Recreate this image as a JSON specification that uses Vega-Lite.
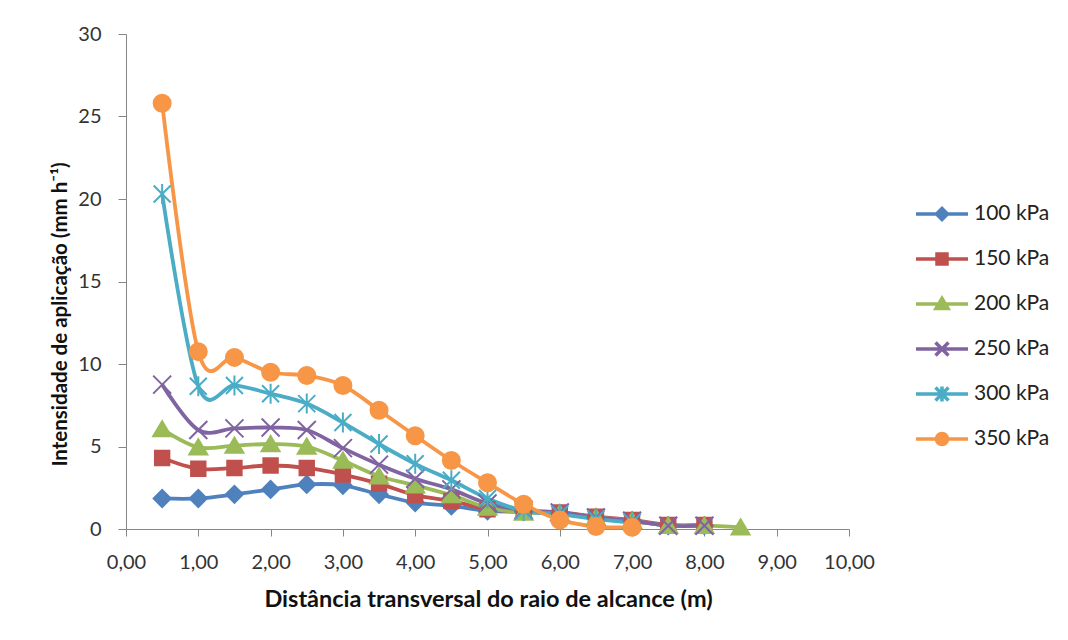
{
  "$schema": "https://vega.github.io/schema/vega-lite/v6.json",
  "autosize": {"type": "none"},
  "width": 723,
  "height": 495,
  "padding": {"left": 126, "top": 34, "right": 219, "bottom": 111},
  "background": "white",
  "config": {
    "font": "Lato",
    "view": {"stroke": null},
    "axis": {"grid": false, "domainColor": "#868686", "tickColor": "#868686", "domainWidth": 1, "tickWidth": 1, "labelColor": "#333333", "titleColor": "#111111", "labelFont": "Lato", "titleFont": "Lato", "labelFlush": false}
  },
  "data": {
    "values": [
      {"d": 0.5, "v": 1.85, "s": "100 kPa"}, {"d": 1.0, "v": 1.85, "s": "100 kPa"}, {"d": 1.5, "v": 2.1, "s": "100 kPa"}, {"d": 2.0, "v": 2.4, "s": "100 kPa"}, {"d": 2.5, "v": 2.7, "s": "100 kPa"}, {"d": 3.0, "v": 2.65, "s": "100 kPa"}, {"d": 3.5, "v": 2.1, "s": "100 kPa"}, {"d": 4.0, "v": 1.6, "s": "100 kPa"}, {"d": 4.5, "v": 1.4, "s": "100 kPa"}, {"d": 5.0, "v": 1.1, "s": "100 kPa"}, {"d": 5.5, "v": 1.05, "s": "100 kPa"}, {"d": 6.0, "v": 0.95, "s": "100 kPa"}, {"d": 6.5, "v": 0.7, "s": "100 kPa"}, {"d": 7.0, "v": 0.5, "s": "100 kPa"}, {"d": 7.5, "v": 0.2, "s": "100 kPa"}, {"d": 8.0, "v": 0.2, "s": "100 kPa"},
      {"d": 0.5, "v": 4.3, "s": "150 kPa"}, {"d": 1.0, "v": 3.65, "s": "150 kPa"}, {"d": 1.5, "v": 3.7, "s": "150 kPa"}, {"d": 2.0, "v": 3.85, "s": "150 kPa"}, {"d": 2.5, "v": 3.7, "s": "150 kPa"}, {"d": 3.0, "v": 3.3, "s": "150 kPa"}, {"d": 3.5, "v": 2.75, "s": "150 kPa"}, {"d": 4.0, "v": 2.05, "s": "150 kPa"}, {"d": 4.5, "v": 1.7, "s": "150 kPa"}, {"d": 5.0, "v": 1.2, "s": "150 kPa"}, {"d": 5.5, "v": 1.05, "s": "150 kPa"}, {"d": 6.0, "v": 1.0, "s": "150 kPa"}, {"d": 6.5, "v": 0.75, "s": "150 kPa"}, {"d": 7.0, "v": 0.55, "s": "150 kPa"}, {"d": 7.5, "v": 0.25, "s": "150 kPa"}, {"d": 8.0, "v": 0.25, "s": "150 kPa"},
      {"d": 0.5, "v": 6.05, "s": "200 kPa"}, {"d": 1.0, "v": 4.95, "s": "200 kPa"}, {"d": 1.5, "v": 5.05, "s": "200 kPa"}, {"d": 2.0, "v": 5.15, "s": "200 kPa"}, {"d": 2.5, "v": 5.0, "s": "200 kPa"}, {"d": 3.0, "v": 4.15, "s": "200 kPa"}, {"d": 3.5, "v": 3.2, "s": "200 kPa"}, {"d": 4.0, "v": 2.65, "s": "200 kPa"}, {"d": 4.5, "v": 2.05, "s": "200 kPa"}, {"d": 5.0, "v": 1.3, "s": "200 kPa"}, {"d": 5.5, "v": 1.0, "s": "200 kPa"}, {"d": 6.0, "v": 0.95, "s": "200 kPa"}, {"d": 6.5, "v": 0.7, "s": "200 kPa"}, {"d": 7.0, "v": 0.5, "s": "200 kPa"}, {"d": 7.5, "v": 0.2, "s": "200 kPa"}, {"d": 8.0, "v": 0.2, "s": "200 kPa"}, {"d": 8.5, "v": 0.1, "s": "200 kPa"},
      {"d": 0.5, "v": 8.75, "s": "250 kPa"}, {"d": 1.0, "v": 6.0, "s": "250 kPa"}, {"d": 1.5, "v": 6.1, "s": "250 kPa"}, {"d": 2.0, "v": 6.15, "s": "250 kPa"}, {"d": 2.5, "v": 6.0, "s": "250 kPa"}, {"d": 3.0, "v": 4.9, "s": "250 kPa"}, {"d": 3.5, "v": 3.9, "s": "250 kPa"}, {"d": 4.0, "v": 3.05, "s": "250 kPa"}, {"d": 4.5, "v": 2.4, "s": "250 kPa"}, {"d": 5.0, "v": 1.55, "s": "250 kPa"}, {"d": 5.5, "v": 1.15, "s": "250 kPa"}, {"d": 6.0, "v": 1.0, "s": "250 kPa"}, {"d": 6.5, "v": 0.7, "s": "250 kPa"}, {"d": 7.0, "v": 0.5, "s": "250 kPa"}, {"d": 7.5, "v": 0.2, "s": "250 kPa"}, {"d": 8.0, "v": 0.2, "s": "250 kPa"},
      {"d": 0.5, "v": 20.3, "s": "300 kPa"}, {"d": 1.0, "v": 8.65, "s": "300 kPa"}, {"d": 1.5, "v": 8.7, "s": "300 kPa"}, {"d": 2.0, "v": 8.2, "s": "300 kPa"}, {"d": 2.5, "v": 7.6, "s": "300 kPa"}, {"d": 3.0, "v": 6.45, "s": "300 kPa"}, {"d": 3.5, "v": 5.15, "s": "300 kPa"}, {"d": 4.0, "v": 3.95, "s": "300 kPa"}, {"d": 4.5, "v": 2.95, "s": "300 kPa"}, {"d": 5.0, "v": 1.85, "s": "300 kPa"}, {"d": 5.5, "v": 1.1, "s": "300 kPa"}, {"d": 6.0, "v": 0.9, "s": "300 kPa"}, {"d": 6.5, "v": 0.6, "s": "300 kPa"}, {"d": 7.0, "v": 0.4, "s": "300 kPa"},
      {"d": 0.5, "v": 25.8, "s": "350 kPa"}, {"d": 1.0, "v": 10.75, "s": "350 kPa"}, {"d": 1.5, "v": 10.4, "s": "350 kPa"}, {"d": 2.0, "v": 9.5, "s": "350 kPa"}, {"d": 2.5, "v": 9.3, "s": "350 kPa"}, {"d": 3.0, "v": 8.7, "s": "350 kPa"}, {"d": 3.5, "v": 7.2, "s": "350 kPa"}, {"d": 4.0, "v": 5.65, "s": "350 kPa"}, {"d": 4.5, "v": 4.15, "s": "350 kPa"}, {"d": 5.0, "v": 2.8, "s": "350 kPa"}, {"d": 5.5, "v": 1.5, "s": "350 kPa"}, {"d": 6.0, "v": 0.55, "s": "350 kPa"}, {"d": 6.5, "v": 0.15, "s": "350 kPa"}, {"d": 7.0, "v": 0.1, "s": "350 kPa"}
    ]
  },
  "encoding": {
    "x": {
      "field": "d", "type": "quantitative",
      "scale": {"domain": [0, 10], "nice": false, "zero": false},
      "axis": {
        "values": [0, 1, 2, 3, 4, 5, 6, 7, 8, 9, 10],
        "labelExpr": "replace(format(datum.value, '.2f'), '.', ',')",
        "labelFontSize": 20, "labelPadding": 16, "labelBaseline": "top", "tickSize": 7,
        "title": "Distância transversal do raio de alcance (m)",
        "titleFontSize": 23.5, "titleFontWeight": "bold",
        "titleX": 362, "titleY": 77, "titleBaseline": "alphabetic", "titleAlign": "center"
      }
    },
    "y": {
      "field": "v", "type": "quantitative",
      "scale": {"domain": [0, 30], "nice": false},
      "axis": {
        "values": [0, 5, 10, 15, 20, 25, 30],
        "labelFontSize": 20, "labelPadding": 17, "tickSize": 8,
        "title": "Intensidade de aplicação (mm h⁻¹)",
        "titleFontSize": 20.5, "titleFontWeight": "bold",
        "titleX": -66, "titleY": 280, "titleAngle": 270, "titleAlign": "center", "titleBaseline": "middle"
      }
    }
  },
  "layer": [
    {
      "mark": {"type": "line", "interpolate": "cardinal", "strokeWidth": 3.8},
      "encoding": {
        "color": {
          "field": "s", "type": "nominal", "legend": null,
          "scale": {
            "domain": ["100 kPa", "150 kPa", "200 kPa", "250 kPa", "300 kPa", "350 kPa"],
            "range": ["#4F81BD", "#C0504D", "#9BBB59", "#8064A2", "#4BACC6", "#F79646"]
          }
        }
      }
    },
    {
      "mark": {"type": "point", "filled": true, "size": 400, "opacity": 1, "strokeWidth": 2},
      "encoding": {
        "color": {
          "field": "s", "type": "nominal", "legend": null,
          "scale": {
            "domain": ["100 kPa", "150 kPa", "200 kPa", "250 kPa", "300 kPa", "350 kPa"],
            "range": ["#4F81BD", "#C0504D", "#9BBB59", "#8064A2", "#4BACC6", "#F79646"]
          }
        },
        "stroke": {
          "field": "s", "type": "nominal", "legend": null,
          "scale": {
            "domain": ["100 kPa", "150 kPa", "200 kPa", "250 kPa", "300 kPa", "350 kPa"],
            "range": ["#4F81BD", "#C0504D", "#9BBB59", "#8064A2", "#4BACC6", "#F79646"]
          }
        },
        "shape": {
          "field": "s", "type": "nominal", "legend": null,
          "scale": {
            "domain": ["100 kPa", "150 kPa", "200 kPa", "250 kPa", "300 kPa", "350 kPa"],
            "range": [
              "M0,-0.85L0.85,0L0,0.85L-0.85,0Z",
              "M-0.72,-0.72H0.72V0.72H-0.72Z",
              "M0,-0.8L0.9,0.72H-0.9Z",
              "M-0.9,-0.9L0.9,0.9M-0.9,0.9L0.9,-0.9",
              "M-0.85,-0.85L0.85,0.85M-0.85,0.85L0.85,-0.85M0,-1V1",
              "M-0.85,0A0.85,0.85,0,1,0,0.85,0A0.85,0.85,0,1,0,-0.85,0Z"
            ]
          }
        }
      }
    },
    {
      "transform": [{"filter": "false"}],
      "mark": {"type": "point", "filled": true, "size": 400, "opacity": 1, "strokeWidth": 3.5},
      "encoding": {
        "color": {
          "field": "s", "type": "nominal",
          "scale": {
            "domain": ["100 kPa", "150 kPa", "200 kPa", "250 kPa", "300 kPa", "350 kPa"],
            "range": ["#4F81BD", "#C0504D", "#9BBB59", "#8064A2", "#4BACC6", "#F79646"]
          },
          "legend": {
            "title": null, "orient": "none", "legendX": 804, "legendY": 168, "padding": 0,
            "rowPadding": 15, "labelOffset": 20, "labelFontSize": 21, "labelFont": "Lato", "labelColor": "#222222",
            "symbolSize": 400, "symbolStrokeWidth": 3.5, "symbolOpacity": 1
          }
        },
        "stroke": {
          "field": "s", "type": "nominal",
          "scale": {
            "domain": ["100 kPa", "150 kPa", "200 kPa", "250 kPa", "300 kPa", "350 kPa"],
            "range": ["#4F81BD", "#C0504D", "#9BBB59", "#8064A2", "#4BACC6", "#F79646"]
          },
          "legend": {
            "title": null, "orient": "none", "legendX": 804, "legendY": 168, "padding": 0,
            "rowPadding": 15, "labelOffset": 20, "labelFontSize": 21, "labelFont": "Lato", "labelColor": "#222222",
            "symbolSize": 400, "symbolStrokeWidth": 3.5, "symbolOpacity": 1
          }
        },
        "shape": {
          "field": "s", "type": "nominal",
          "scale": {
            "domain": ["100 kPa", "150 kPa", "200 kPa", "250 kPa", "300 kPa", "350 kPa"],
            "range": [
              "M0,-0.75L0,-0.75M0,0.75L0,0.75M-2.6,0H2.6M0,-0.55L0.55,0L0,0.55L-0.55,0Z",
              "M0,-0.75L0,-0.75M0,0.75L0,0.75M-2.6,0H2.6M-0.5,-0.5H0.5V0.5H-0.5Z",
              "M0,-0.75L0,-0.75M0,0.75L0,0.75M-2.6,0H2.6M0,-0.55L0.6,0.45H-0.6Z",
              "M0,-0.75L0,-0.75M0,0.75L0,0.75M-2.6,0H2.6M-0.65,-0.65L0.65,0.65M-0.65,0.65L0.65,-0.65",
              "M0,-0.75L0,-0.75M0,0.75L0,0.75M-2.6,0H2.6M-0.65,-0.65L0.65,0.65M-0.65,0.65L0.65,-0.65M0,-0.75V0.75",
              "M0,-0.75L0,-0.75M0,0.75L0,0.75M-2.6,0H2.6M-0.55,0A0.55,0.55,0,1,0,0.55,0A0.55,0.55,0,1,0,-0.55,0Z"
            ]
          },
          "legend": {
            "title": null, "orient": "none", "legendX": 804, "legendY": 168, "padding": 0,
            "rowPadding": 15, "labelOffset": 20, "labelFontSize": 21, "labelFont": "Lato", "labelColor": "#222222",
            "symbolSize": 400, "symbolStrokeWidth": 3.5, "symbolOpacity": 1
          }
        }
      }
    }
  ],
  "resolve": {
    "scale": {"shape": "independent", "color": "independent", "stroke": "independent"},
    "legend": {"shape": "independent", "color": "independent", "stroke": "independent"}
  }
}
